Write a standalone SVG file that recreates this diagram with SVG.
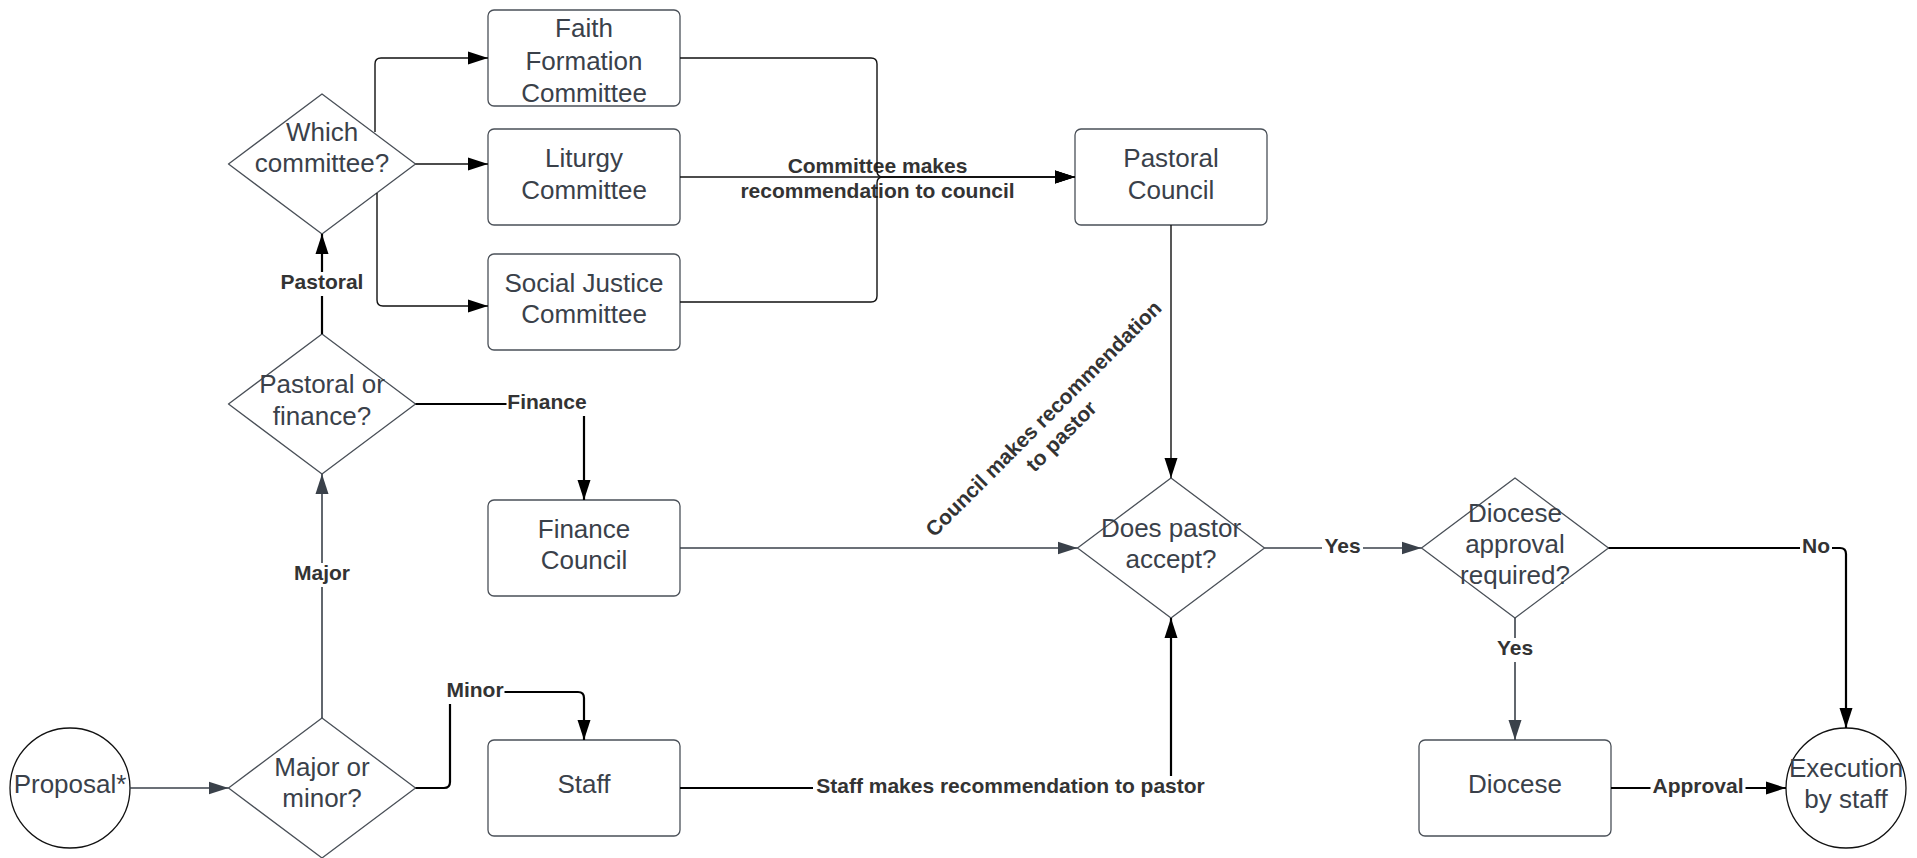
<svg xmlns="http://www.w3.org/2000/svg" width="1917" height="858" viewBox="0 0 1917 858">
<style>
.box{fill:#fff;stroke:#4a5058;stroke-width:1.3}
.dia{fill:#fff;stroke:#4a5058;stroke-width:1.3;stroke-linejoin:round}
.circ{fill:#fff;stroke:#111;stroke-width:1.3}
.nt{font-family:"Liberation Sans",Arial,sans-serif;font-size:26px;fill:#3a414a;text-anchor:middle}
.lt{font-family:"Liberation Sans",Arial,sans-serif;font-size:21px;font-weight:bold;fill:#333;text-anchor:middle}
.lbg{fill:#fff}
.cb{fill:none;stroke:#000;stroke-width:2.2}
.ct{fill:none;stroke:#111;stroke-width:1.4}
.cg{fill:none;stroke:#3a414a;stroke-width:1.6}
</style>
<defs>
<marker id="ab" markerUnits="userSpaceOnUse" markerWidth="20" markerHeight="14" refX="20" refY="7" orient="auto"><path d="M0,0.5 L20,7 L0,13.5 z" fill="#000"/></marker>
<marker id="ag" markerUnits="userSpaceOnUse" markerWidth="20" markerHeight="14" refX="20" refY="7" orient="auto"><path d="M0,0.5 L20,7 L0,13.5 z" fill="#3a414a"/></marker>
</defs>
<rect width="1917" height="858" fill="#fff"/>

<g id="proposal"><circle class="circ" cx="70" cy="788" r="60"/><text class="nt" x="70" y="793">Proposal*</text></g>
<g id="major-minor"><polygon class="dia" points="322,718 415.5,788 322,858 228.5,788"/><text class="nt" x="322" y="776">Major or</text><text class="nt" x="322" y="807">minor?</text></g>
<g id="pastoral-finance"><polygon class="dia" points="322,334 415.5,404 322,474 228.5,404"/><text class="nt" x="322" y="393">Pastoral or</text><text class="nt" x="322" y="425">finance?</text></g>
<g id="which-committee"><polygon class="dia" points="322,94 415.5,164 322,234 228.5,164"/><text class="nt" x="322" y="141">Which</text><text class="nt" x="322" y="172">committee?</text></g>
<g id="faith"><rect class="box" x="488" y="10" width="192" height="96" rx="6"/><text class="nt" x="584" y="37">Faith</text><text class="nt" x="584" y="70">Formation</text><text class="nt" x="584" y="102">Committee</text></g>
<g id="liturgy"><rect class="box" x="488" y="129" width="192" height="96" rx="6"/><text class="nt" x="584" y="167">Liturgy</text><text class="nt" x="584" y="199">Committee</text></g>
<g id="social-justice"><rect class="box" x="488" y="254" width="192" height="96" rx="6"/><text class="nt" x="584" y="292">Social Justice</text><text class="nt" x="584" y="323">Committee</text></g>
<g id="finance-council"><rect class="box" x="488" y="500" width="192" height="96" rx="6"/><text class="nt" x="584" y="538">Finance</text><text class="nt" x="584" y="569">Council</text></g>
<g id="staff"><rect class="box" x="488" y="740" width="192" height="96" rx="6"/><text class="nt" x="584" y="793">Staff</text></g>
<g id="pastoral-council"><rect class="box" x="1075" y="129" width="192" height="96" rx="6"/><text class="nt" x="1171" y="167">Pastoral</text><text class="nt" x="1171" y="199">Council</text></g>
<g id="does-pastor-accept"><polygon class="dia" points="1171,478 1264.5,548 1171,618 1077.5,548"/><text class="nt" x="1171" y="537">Does pastor</text><text class="nt" x="1171" y="568">accept?</text></g>
<g id="diocese-approval"><polygon class="dia" points="1515,478 1608.5,548 1515,618 1421.5,548"/><text class="nt" x="1515" y="522">Diocese</text><text class="nt" x="1515" y="553">approval</text><text class="nt" x="1515" y="584">required?</text></g>
<g id="diocese"><rect class="box" x="1419" y="740" width="192" height="96" rx="6"/><text class="nt" x="1515" y="793">Diocese</text></g>
<g id="execution"><circle class="circ" cx="1846" cy="788" r="60"/><text class="nt" x="1846" y="777">Execution</text><text class="nt" x="1846" y="808">by staff</text></g>

<g id="connectors">
<path class="cg" d="M130,788 H228.5" marker-end="url(#ag)"/>
<path class="cg" d="M322,718 V474" marker-end="url(#ag)"/>
<rect class="lbg" x="293" y="563" width="58" height="24"/><text class="lt" x="322" y="580">Major</text>
<path class="cb" d="M322,334 V234" marker-end="url(#ab)"/>
<rect class="lbg" x="279.5" y="272" width="85" height="24"/><text class="lt" x="322" y="289">Pastoral</text>
<path class="cb" d="M415.5,404 H578 Q584,404 584,410 V500" marker-end="url(#ab)"/>
<rect class="lbg" x="506.5" y="392" width="81" height="24"/><text class="lt" x="547" y="409">Finance</text>
<path class="cb" d="M415.5,788 H444 Q450,788 450,782 V698 Q450,692 456,692 H578 Q584,692 584,698 V740" marker-end="url(#ab)"/>
<rect class="lbg" x="445.5" y="680" width="59" height="24"/><text class="lt" x="475" y="697">Minor</text>
<path class="ct" d="M375,132 V64 Q375,58 381,58 H488" marker-end="url(#ab)"/>
<path class="ct" d="M415.5,164 H488" marker-end="url(#ab)"/>
<path class="ct" d="M377,193 V300 Q377,306 383,306 H488" marker-end="url(#ab)"/>
<path class="ct" d="M680,177 H1075" marker-end="url(#ab)"/>
<text class="lt" x="877.5" y="173">Committee makes</text><text class="lt" x="877.5" y="198">recommendation to council</text>
<path class="ct" d="M680,58 H871 Q877,58 877,64 V171 Q877,177 883,177 H1075" marker-end="url(#ab)"/>
<path class="ct" d="M680,302 H871 Q877,302 877,296 V183 Q877,177 883,177 H1075" marker-end="url(#ab)"/>
<path class="ct" d="M1171,225 V478" marker-end="url(#ab)"/>
<g transform="translate(1048.6,423.6) rotate(-45)"><text class="lt" x="0" y="0">Council makes recommendation</text><text class="lt" x="0" y="25">to pastor</text></g>
<path class="cg" d="M680,548 H1077.5" marker-end="url(#ag)"/>
<path class="cb" d="M680,788 H1171 V618" marker-end="url(#ab)"/>
<rect class="lbg" x="813" y="776" width="396" height="24"/><text class="lt" x="1010.5" y="793">Staff makes recommendation to pastor</text>
<path class="cg" d="M1264.5,548 H1421.5" marker-end="url(#ag)"/>
<rect class="lbg" x="1322" y="536" width="41" height="24"/><text class="lt" x="1342.5" y="553">Yes</text>
<path class="cg" d="M1515,618 V740" marker-end="url(#ag)"/>
<rect class="lbg" x="1494.5" y="638" width="41" height="24"/><text class="lt" x="1515" y="655">Yes</text>
<path class="cb" d="M1608.5,548 H1840 Q1846,548 1846,554 V728" marker-end="url(#ab)"/>
<rect class="lbg" x="1800" y="536" width="32" height="24"/><text class="lt" x="1816" y="553">No</text>
<path class="cb" d="M1611,788 H1786" marker-end="url(#ab)"/>
<rect class="lbg" x="1650.5" y="776" width="95" height="24"/><text class="lt" x="1698" y="793">Approval</text>
</g>
</svg>
